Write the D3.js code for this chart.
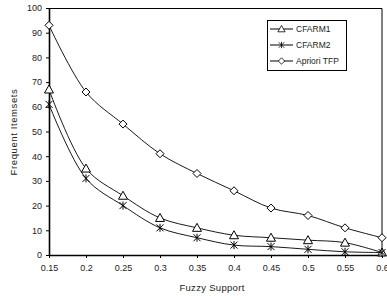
<!DOCTYPE html>
<html>
<head>
<meta charset="utf-8">
<script src="https://cdn.jsdelivr.net/npm/d3@7"></script>
<style>
  body { margin: 0; background: #fff; }
  svg { display: block; font-family: "Liberation Sans", Arial, sans-serif; }
</style>
</head>
<body>
<svg id="chart" width="387" height="296"></svg>
<script>
// data
const support = [0.15, 0.2, 0.25, 0.3, 0.35, 0.4, 0.45, 0.5, 0.55, 0.6];
const cfarm1  = [67, 35, 24, 15, 11, 8, 7, 6, 5, 1];
const cfarm2  = [61, 31, 20, 11, 7, 4, 3.4, 2.3, 1.3, 1];
const apriori = [93, 66, 53, 41, 33, 26, 19, 16, 11, 7];
const yTicks  = [0, 10, 20, 30, 40, 50, 60, 70, 80, 90, 100];

const series = [
  { name: "CFARM1",      values: cfarm1,  marker: "triangle" },
  { name: "CFARM2",      values: cfarm2,  marker: "star" },
  { name: "Apriori TFP", values: apriori, marker: "diamond" }
];

const margin = { top: 8, right: 5, bottom: 41, left: 49 },
      W = 387, H = 296,
      width  = W - margin.left - margin.right,
      height = H - margin.top - margin.bottom;

const svg = d3.select("#chart");
const g = svg.append("g").attr("transform", `translate(${margin.left},${margin.top})`);

const x = d3.scaleLinear().domain([0.15, 0.6]).range([0, width]);
const y = d3.scaleLinear().domain([0, 100]).range([height, 0]);

// frame (top + right)
g.append("path")
  .attr("d", `M0,0.5H${width}V${height}`)
  .attr("fill", "none").attr("stroke", "#000").attr("stroke-width", 1);

// axes
const xAxis = g.append("g").attr("transform", `translate(0,${height})`)
  .call(d3.axisBottom(x).tickValues(support).tickSize(3).tickSizeOuter(0)
    .tickFormat(d => d3.format("")(+d.toFixed(2))));
const yAxis = g.append("g")
  .call(d3.axisLeft(y).tickValues(yTicks).tickSize(3).tickSizeOuter(0));

[xAxis, yAxis].forEach(a => {
  a.select(".domain").attr("stroke", "#000").attr("stroke-width", 1.6);
  a.selectAll(".tick line").attr("stroke", "#000");
  a.selectAll(".tick text").attr("fill", "#222").style("font-size", "9px");
});
xAxis.selectAll(".tick text").attr("dy", "1.1em");
yAxis.selectAll(".tick text").attr("dx", "-1px");

// axis titles
svg.append("text")
  .attr("x", 212).attr("y", 291)
  .attr("text-anchor", "middle")
  .style("font-size", "9.5px").style("letter-spacing", "0.3px").attr("fill", "#222")
  .text("Fuzzy Support");
svg.append("text")
  .attr("transform", `translate(17,132) rotate(-90)`)
  .attr("text-anchor", "middle")
  .style("font-size", "9.5px").style("letter-spacing", "0.6px").attr("fill", "#222")
  .text("Frequent Itemsets");

// markers
function drawMarker(sel, type) {
  if (type === "triangle") {
    sel.append("path").attr("d", "M0,-4.5L4.5,3.5L-4.5,3.5Z")
      .attr("fill", "#fff").attr("stroke", "#000").attr("stroke-width", 1);
  } else if (type === "diamond") {
    sel.append("path").attr("d", "M0,-4L4,0L0,4L-4,0Z")
      .attr("fill", "#fff").attr("stroke", "#000").attr("stroke-width", 1);
  } else {
    sel.append("path").attr("d", "M-3.5,-3.5L3.5,3.5M-3.5,3.5L3.5,-3.5M0,-4V4")
      .attr("fill", "none").attr("stroke", "#000").attr("stroke-width", 1);
  }
}

const line = d3.line()
  .x((d, i) => x(support[i]))
  .y(d => y(d))
  .curve(d3.curveCatmullRom.alpha(0.5));

series.forEach(s => {
  g.append("path")
    .attr("d", line(s.values))
    .attr("fill", "none").attr("stroke", "#000").attr("stroke-width", 0.9);
  s.values.forEach((v, i) => {
    const m = g.append("g").attr("transform", `translate(${x(support[i])},${y(v)})`);
    drawMarker(m, s.marker);
  });
});

// legend
const lg = svg.append("g").attr("transform", "translate(267,20)");
lg.append("rect").attr("x", 0.5).attr("y", 0.5).attr("width", 79).attr("height", 50)
  .attr("fill", "#fff").attr("stroke", "#000").attr("stroke-width", 1);
series.forEach((s, i) => {
  const row = lg.append("g").attr("transform", `translate(0,${9 + i * 16})`);
  row.append("line").attr("x1", 3).attr("x2", 26).attr("stroke", "#000");
  const m = row.append("g").attr("transform", "translate(14.5,0) scale(0.8)");
  drawMarker(m, s.marker);
  row.append("text").attr("x", 29).attr("y", 3)
    .style("font-size", "8.5px").attr("fill", "#222").text(s.name);
});
</script>
</body>
</html>
